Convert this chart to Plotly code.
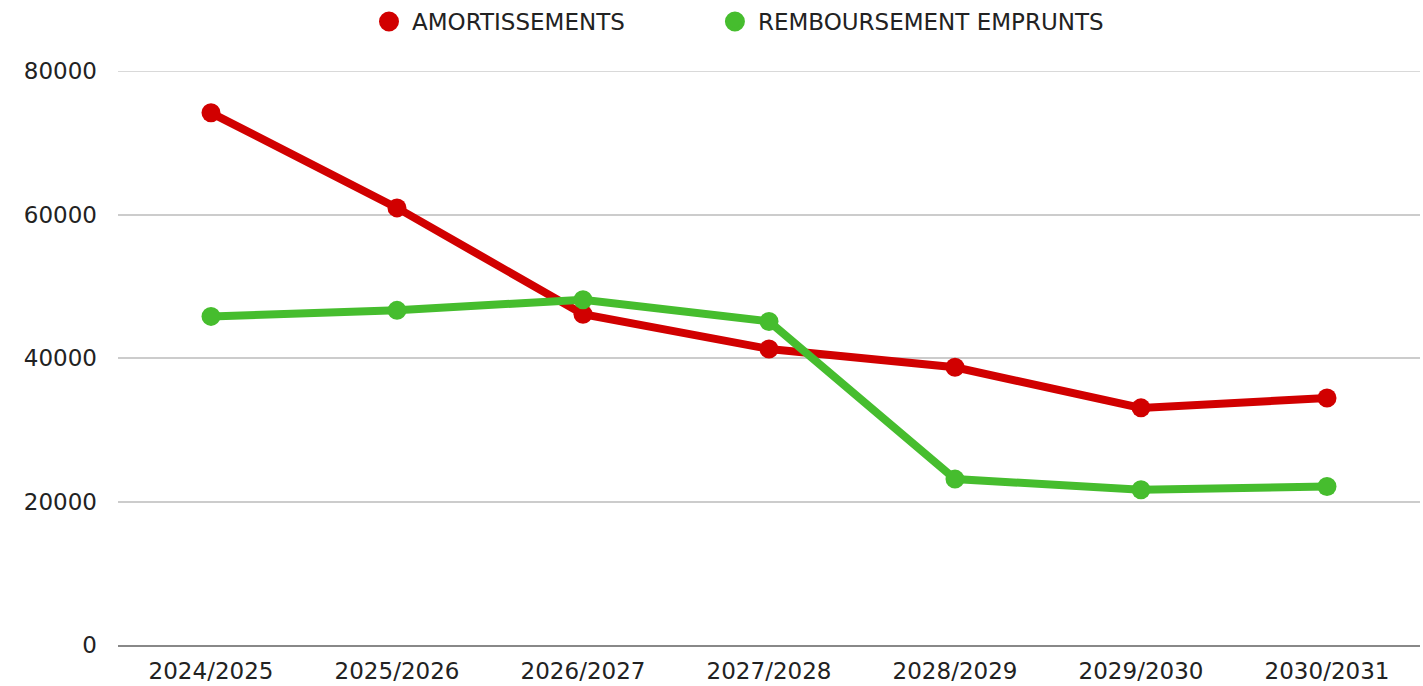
import plotly.graph_objects as go

categories = ["2024/2025", "2025/2026", "2026/2027", "2027/2028", "2028/2029", "2029/2030", "2030/2031"]
amortissements = [74170, 60920, 46100, 41260, 38700, 33050, 34430]
remboursement = [45800, 46640, 48130, 45100, 23120, 21640, 22090]
y_ticks = [0, 20000, 40000, 60000, 80000]

RED = "#D10000"
GREEN = "#46BD2E"
FONT = "DejaVu Sans"

fig = go.Figure()
for name, vals, col in [("AMORTISSEMENTS", amortissements, RED),
                        ("REMBOURSEMENT EMPRUNTS", remboursement, GREEN)]:
    fig.add_trace(go.Scatter(x=categories, y=vals, mode="lines+markers", name=name,
                             line=dict(color=col, width=8),
                             marker=dict(color=col, size=19),
                             showlegend=False, cliponaxis=False))
for name, col, lg in [("AMORTISSEMENTS", RED, "legend"), ("REMBOURSEMENT EMPRUNTS", GREEN, "legend2")]:
    fig.add_trace(go.Scatter(x=[None], y=[None], mode="markers", name=name,
                             marker=dict(color=col, size=22, line=dict(color=col, width=4)),
                             showlegend=True, legend=lg))

fig.add_shape(type="line", xref="paper", yref="y", x0=0, x1=1, y0=y_ticks[-1], y1=y_ticks[-1],
              line=dict(color="#CCCCCC", width=1.5), layer="below")

leg_common = dict(orientation="h", xanchor="left", y=1.0, yanchor="top",
                  xref="container", yref="container",
                  font=dict(size=23, color="#222222"), itemwidth=36)
fig.update_layout(
    width=1423, height=686,
    margin=dict(l=118, r=3, t=71, b=41),
    paper_bgcolor="white", plot_bgcolor="white",
    font=dict(family=FONT, size=23, color="#222222"),
    legend=dict(x=0.2572, **leg_common),
    legend2=dict(x=0.5003, **leg_common),
    showlegend=True,
)
fig.update_xaxes(type="category", range=[-0.5, 6.5], showgrid=False,
                 showline=True, linecolor="#888888", linewidth=2,
                 ticks="", ticklabelstandoff=4, tickfont=dict(size=23, color="#222222"))
fig.update_yaxes(range=[0, 80000], tickvals=y_ticks, ticktext=[str(v) for v in y_ticks],
                 showgrid=True, gridcolor="#CCCCCC", gridwidth=1.5,
                 zeroline=False, showline=False, ticks="", ticklabelstandoff=20,
                 tickfont=dict(size=23, color="#222222"))

fig.write_html("out.html", config={"displayModeBar": False},
               post_script="document.body.style.margin='0';")
